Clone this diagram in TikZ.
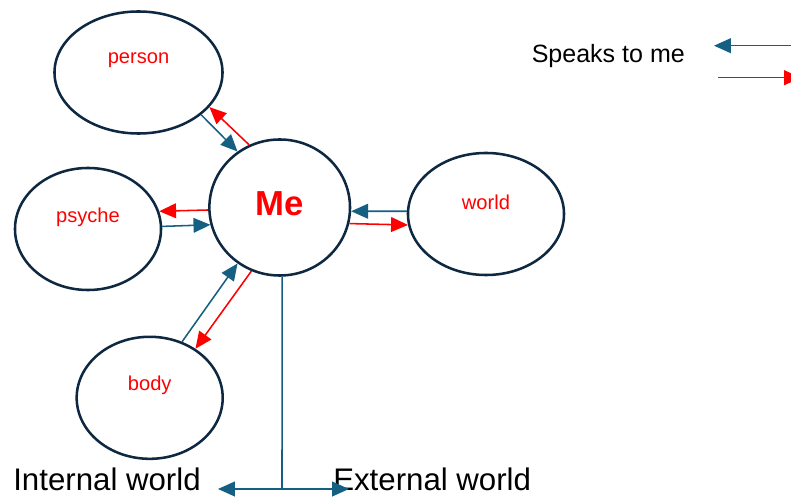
\documentclass[tikz,border=0pt]{standalone}
\usepackage{fontspec}
\setmainfont{Liberation Sans}
\usetikzlibrary{arrows.meta, shapes.geometric}
\definecolor{inkblue}{HTML}{156082}
\definecolor{outline}{HTML}{0E2841}

\begin{document}
\begin{tikzpicture}[x=0.025cm, y=-0.025cm,
        blob/.style={ellipse, draw=outline, line width=1.8pt, inner sep=0pt, minimum height=3.05cm},
        tag/.style={text=red, font=\fontsize{14.3}{17}\selectfont, yshift=0.3cm},
        talk/.style={draw=inkblue, line width=1.1pt, -{Triangle[length=12pt,width=10.5pt]}},
        hear/.style={draw=red, line width=1.1pt, -{Triangle[length=12pt,width=10.5pt]}}]
        \useasboundingbox (0,0) rectangle (791,498);

        % the five bubbles
        \node[blob, minimum width=3.515cm, minimum height=3.4cm,
            label={[text=red, font=\bfseries\fontsize{24.7}{29}\selectfont, yshift=0.09cm]center:Me}] (me) at (279.7,207.5) {};
        \node[blob, minimum width=4.2cm, label={[tag]center:person}] (person) at (138.5,72.5) {};
        \node[blob, minimum width=3.65cm, label={[tag]center:psyche}] (psyche) at (88,229) {};
        \node[blob, minimum width=3.9cm, label={[tag]center:world}] (world) at (486,214) {};
        \node[blob, minimum width=3.65cm, label={[tag]center:body}] (body) at (149.7,397.8) {};

        % arrows to and from me
        \draw[talk] (person.-34.6) -- (me.127.4);
        \draw[hear] (me.116.2) -- (person.-26.6);

        \draw[hear] (me.182.9) -- (psyche.14.6);
        \draw[talk] (psyche.2.4) -- (me.194.9);

        \draw[talk] (world.178.8) -- (me.-3.9);
        \draw[hear] (me.-13.8) -- (world.188);

        \draw[talk] (body.60.7) -- (me.233.8);
        \draw[hear] (me.246.1) -- (body.47.8);

        % split at the bottom
        \node[font=\fontsize{22.2}{26}\selectfont, anchor=base east, inner sep=0pt] (inner) at (201,491) {Internal world};
        \node[font=\fontsize{22.2}{26}\selectfont, anchor=base west, inner sep=0pt] (outer) at (333,491) {External world};
        \coordinate (split) at (282,489);
        \coordinate (inend) at (218,489);
        \coordinate (exend) at (349,489);
        \draw[draw=inkblue, line width=1.1pt] (me.-88) -- (split);
        \draw[talk] (split) -- (inend);
        \draw[talk] (split) -- (exend);

        % legend
        \node[font=\fontsize{17.8}{21}\selectfont, anchor=base west, inner sep=0pt] (key) at (531.5,62.7) {Speaks to me};
        \coordinate (keyA) at (791,45.7);
        \coordinate (keyB) at (714,45.7);
        \coordinate (keyC) at (718,77.7);
        \coordinate (keyD) at (801,77.7);
        \draw[talk] (keyA) -- (keyB);
        \draw[hear] (keyC) -- (keyD);
    \end{tikzpicture}
\end{document}
